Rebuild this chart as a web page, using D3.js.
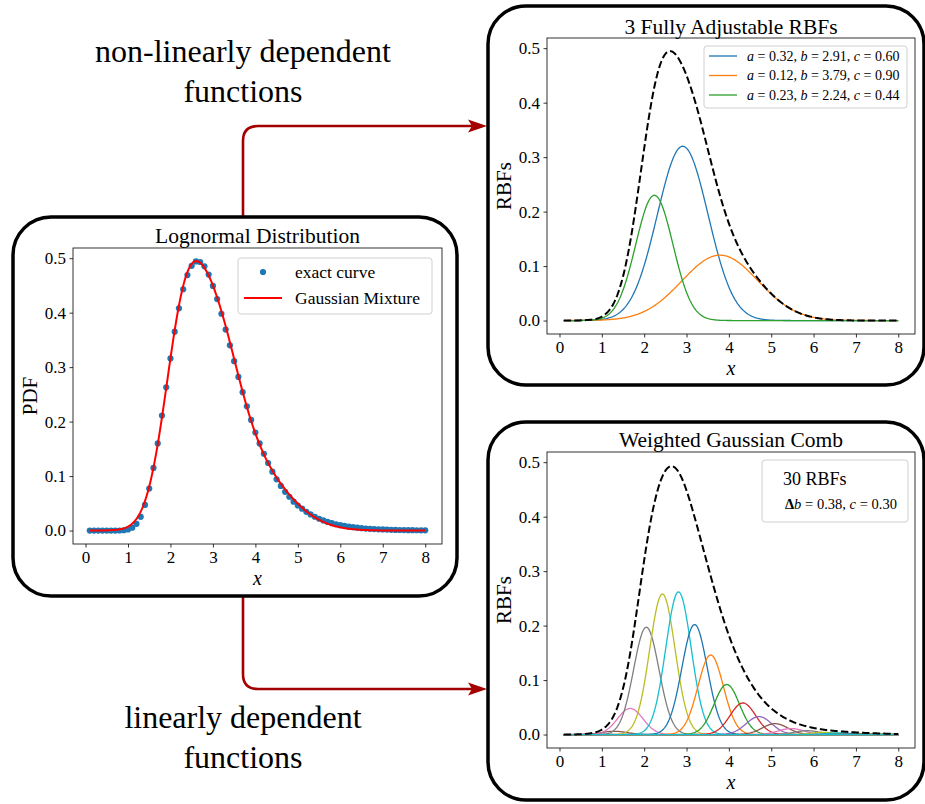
<!DOCTYPE html>
<meta charset="utf-8">
<head>
<style>
 body { margin: 0; background: #fff; }
 svg text { font-family: "Liberation Serif", "DejaVu Serif", serif; fill: #000; }
</style>
</head>
<body>
<div id="chart"></div>
<script src="https://d3js.org/d3.v7.min.js"></script>
<script>
// exact lognormal pdf, sampled at x = 0.1, 0.2, ... 8.0
var pdfStart = 0.1, pdfStep = 0.1;
var pdfValues = [
  0, 0, 0, 0, 0, 0, 0, 0.0001, 0.0005, 0.0019,
  0.0053, 0.0124, 0.0252, 0.047, 0.077, 0.115, 0.160, 0.211, 0.263, 0.316,
  0.365, 0.408, 0.443, 0.469, 0.486, 0.494, 0.493, 0.485, 0.470, 0.449,
  0.425, 0.398, 0.369, 0.340, 0.311, 0.282, 0.254, 0.228, 0.203, 0.180,
  0.160, 0.141, 0.124, 0.108, 0.094, 0.082, 0.071, 0.062, 0.053, 0.046,
  0.0401, 0.0344, 0.0296, 0.0253, 0.0217, 0.0185, 0.0158, 0.0135, 0.0116, 0.0098,
  0.0084, 0.0071, 0.0061, 0.0052, 0.0044, 0.0037, 0.0032, 0.0027, 0.0023, 0.0020,
  0.0017, 0.0014, 0.0012, 0.0010, 0.0009, 0.0007, 0.0006, 0.0005, 0.0004, 0.0004
];

// 3 fully adjustable RBFs (from the legend)
var rbfA = [0.32, 0.12, 0.23];
var rbfB = [2.91, 3.79, 2.24];
var rbfC = [0.60, 0.90, 0.44];

// weighted gaussian comb: 30 RBFs, fixed spacing and width
var combFirst = -0.61, combStep = 0.38, combC = 0.30;
var combWeights = [
  0, 0, 0, 0, 0.001, 0.006, 0.048, 0.197, 0.258, 0.262,
  0.202, 0.146, 0.092, 0.058, 0.033, 0.020, 0.011, 0.007, 0.004, 0.003,
  0.002, 0.001, 0.001, 0, 0, 0, 0, 0, 0, 0
];

var xTicks = [0, 1, 2, 3, 4, 5, 6, 7, 8];
var yTicks = [0, 0.1, 0.2, 0.3, 0.4, 0.5];

var width = 925, height = 804;
var tab10 = d3.schemeCategory10;
var darkRed = "#a50000";

var svg = d3.select("#chart").append("svg")
    .attr("width", width)
    .attr("height", height);
svg.append("rect").attr("width", width).attr("height", height).attr("fill", "#fff");

var pdfX = pdfValues.map((v, i) => +(pdfStart + i * pdfStep).toFixed(1));
var xMin = d3.min(pdfX), xMax = d3.max(pdfX);
var xPad = (xMax - xMin) * 0.05;
var yPad = d3.max(pdfValues) * 0.05;
var xDomain = [xMin - xPad, xMax + xPad];
var yDomain = [-yPad, d3.max(pdfValues) + yPad];

// plotting grid for the smooth curves
var grid = d3.range(0, 401).map(i => xMin + i * (xMax - xMin) / 400);

function gauss(a, b, c) {
    return x => a * Math.exp(-(x - b) * (x - b) / (2 * c * c));
}

// ---- arrows (drawn under the boxes)
var arrows = svg.append("g").attr("fill", "none").attr("stroke", darkRed).attr("stroke-width", 2.6);
arrows.append("path").attr("d", "M243,218 L243,141 Q243,126 258,126 L472,126");
arrows.append("path").attr("d", "M243,596 L243,674 Q243,689 258,689 L472,689");
svg.append("path").attr("d", "M487,126 L468,119.5 L472,126 L468,132.5 Z").attr("fill", darkRed);
svg.append("path").attr("d", "M487,689 L468,682.5 L472,689 L468,695.5 Z").attr("fill", darkRed);

// ---- big captions
svg.append("text").attr("x", 243).attr("y", 62).attr("text-anchor", "middle")
   .style("font-size", "32px").text("non-linearly dependent");
svg.append("text").attr("x", 243).attr("y", 102).attr("text-anchor", "middle")
   .style("font-size", "32px").text("functions");
svg.append("text").attr("x", 243).attr("y", 728).attr("text-anchor", "middle")
   .style("font-size", "32px").text("linearly dependent");
svg.append("text").attr("x", 243).attr("y", 768).attr("text-anchor", "middle")
   .style("font-size", "32px").text("functions");

// ---- rounded boxes
var boxes = [
    {x: 13, y: 217, w: 444, h: 379},
    {x: 488, y: 6, w: 436, h: 379},
    {x: 488, y: 422, w: 436, h: 378}
];
svg.selectAll("rect.box").data(boxes).join("rect")
   .attr("class", "box")
   .attr("x", d => d.x).attr("y", d => d.y)
   .attr("width", d => d.w).attr("height", d => d.h)
   .attr("rx", 38).attr("ry", 38)
   .attr("fill", "#fff").attr("stroke", "#000").attr("stroke-width", 3.5);

function makePanel(p) {
    var x = d3.scaleLinear().domain(xDomain).range([p.l, p.r]);
    var y = d3.scaleLinear().domain(yDomain).range([p.b, p.t]);
    var g = svg.append("g");

    var ax = g.append("g").attr("transform", `translate(0,${p.b})`)
        .call(d3.axisBottom(x).tickValues(xTicks).tickFormat(d3.format("d"))
              .tickSize(3.5).tickSizeOuter(0).tickPadding(3.5));
    var ay = g.append("g").attr("transform", `translate(${p.l},0)`)
        .call(d3.axisLeft(y).tickValues(yTicks).tickFormat(d3.format(".1f"))
              .tickSize(3.5).tickSizeOuter(0).tickPadding(3.5));
    [ax, ay].forEach(a => {
        a.attr("font-family", null).attr("font-size", null);
        a.select(".domain").remove();
        a.selectAll(".tick line").attr("stroke", "#000").attr("stroke-width", 0.8);
        a.selectAll(".tick text").style("font-size", "17px");
    });

    g.append("text").attr("x", (p.l + p.r) / 2).attr("y", p.titleY)
     .attr("text-anchor", "middle").style("font-size", "21.5px").text(p.title);
    g.append("text").attr("x", (p.l + p.r) / 2).attr("y", p.b + 41)
     .attr("text-anchor", "middle").style("font-size", "20px").style("font-style", "italic").text("x");
    g.append("text").attr("transform", `translate(${p.l - 36},${(p.t + p.b) / 2}) rotate(-90)`)
     .attr("text-anchor", "middle").style("font-size", "21px").text(p.ylabel);

    var plot = g.append("g");
    var frame = () => g.append("rect")
        .attr("x", p.l).attr("y", p.t).attr("width", p.r - p.l).attr("height", p.b - p.t)
        .attr("fill", "none").attr("stroke", "#000").attr("stroke-width", 0.8);
    return {x: x, y: y, g: g, plot: plot, frame: frame};
}

// ---- left: lognormal distribution
var left = makePanel({l: 73, r: 442, t: 248, b: 544, title: "Lognormal Distribution", titleY: 243, ylabel: "PDF"});
left.plot.selectAll("circle").data(pdfValues).join("circle")
    .attr("cx", (d, i) => left.x(pdfX[i]))
    .attr("cy", d => left.y(d))
    .attr("r", 3.1)
    .attr("fill", tab10[0]);

var rbfs = rbfA.map((a, i) => gauss(a, rbfB[i], rbfC[i]));
var mixture = x => d3.sum(rbfs, f => f(x));

var lineL = d3.line().x(d => left.x(d)).y(d => left.y(mixture(d)));
left.plot.append("path").attr("d", lineL(grid))
    .attr("fill", "none").attr("stroke", "#ff0000").attr("stroke-width", 2);
left.frame();

var legL = left.g.append("g");
legL.append("rect").attr("x", 238).attr("y", 258).attr("width", 194).attr("height", 56)
    .attr("rx", 3).attr("fill", "#fff").attr("stroke", "#d0d0d0").attr("stroke-width", 1);
legL.append("circle").attr("cx", 263).attr("cy", 272).attr("r", 3.1).attr("fill", tab10[0]);
legL.append("line").attr("x1", 244).attr("x2", 282).attr("y1", 298).attr("y2", 298)
    .attr("stroke", "#ff0000").attr("stroke-width", 2);
legL.append("text").attr("x", 295).attr("y", 278).style("font-size", "17.5px").text("exact curve");
legL.append("text").attr("x", 295).attr("y", 304).style("font-size", "17.5px").text("Gaussian Mixture");

// ---- top right: 3 fully adjustable RBFs
var tr = makePanel({l: 547, r: 915, t: 38, b: 334, title: "3 Fully Adjustable RBFs", titleY: 34, ylabel: "RBFs"});
rbfs.forEach((f, i) => {
    tr.plot.append("path")
      .attr("d", d3.line().x(d => tr.x(d)).y(d => tr.y(f(d)))(grid))
      .attr("fill", "none").attr("stroke", tab10[i]).attr("stroke-width", 1.3);
});
tr.plot.append("path")
  .attr("d", d3.line().x(d => tr.x(d)).y(d => tr.y(mixture(d)))(grid))
  .attr("fill", "none").attr("stroke", "#000").attr("stroke-width", 2)
  .attr("stroke-dasharray", "7.4,3.2");
tr.frame();

var legT = tr.g.append("g");
legT.append("rect").attr("x", 704).attr("y", 46).attr("width", 203).attr("height", 62)
    .attr("rx", 3).attr("fill", "#fff").attr("stroke", "#d0d0d0").attr("stroke-width", 1);
rbfA.forEach((a, i) => {
    var yy = 56 + i * 19.5;
    legT.append("line").attr("x1", 709).attr("x2", 737).attr("y1", yy).attr("y2", yy)
        .attr("stroke", tab10[i]).attr("stroke-width", 1.3);
    var t = legT.append("text").attr("x", 747).attr("y", yy + 4.5).style("font-size", "14px");
    t.append("tspan").style("font-style", "italic").text("a");
    t.append("tspan").text(" = " + a.toFixed(2) + ", ");
    t.append("tspan").style("font-style", "italic").text("b");
    t.append("tspan").text(" = " + rbfB[i].toFixed(2) + ", ");
    t.append("tspan").style("font-style", "italic").text("c");
    t.append("tspan").text(" = " + rbfC[i].toFixed(2));
});

// ---- bottom right: weighted gaussian comb
var br = makePanel({l: 547, r: 915, t: 452, b: 748, title: "Weighted Gaussian Comb", titleY: 447, ylabel: "RBFs"});
var comb = combWeights.map((w, k) => gauss(w, combFirst + k * combStep, combC));
comb.forEach((f, k) => {
    br.plot.append("path")
      .attr("d", d3.line().x(d => br.x(d)).y(d => br.y(f(d)))(grid))
      .attr("fill", "none").attr("stroke", tab10[k % 10]).attr("stroke-width", 1.3);
});
br.plot.append("path")
  .attr("d", d3.line().x(d => br.x(d)).y(d => br.y(d3.sum(comb, f => f(d))))(grid))
  .attr("fill", "none").attr("stroke", "#000").attr("stroke-width", 2)
  .attr("stroke-dasharray", "7.4,3.2");
br.frame();

var legB = br.g.append("g");
legB.append("rect").attr("x", 762).attr("y", 460).attr("width", 146).attr("height", 62)
    .attr("rx", 3).attr("fill", "#fff").attr("stroke", "#d0d0d0").attr("stroke-width", 1);
legB.append("text").attr("x", 783).attr("y", 485).style("font-size", "18px")
    .text(combWeights.length + " RBFs");
var tb = legB.append("text").attr("x", 785).attr("y", 509).style("font-size", "14.5px")
    .attr("textLength", 112).attr("lengthAdjust", "spacing");
tb.append("tspan").style("font-weight", "bold").text("\u0394");
tb.append("tspan").style("font-style", "italic").text("b");
tb.append("tspan").text(" = " + combStep.toFixed(2) + ", ");
tb.append("tspan").style("font-style", "italic").text("c");
tb.append("tspan").text(" = " + combC.toFixed(2));
</script>
</body>
